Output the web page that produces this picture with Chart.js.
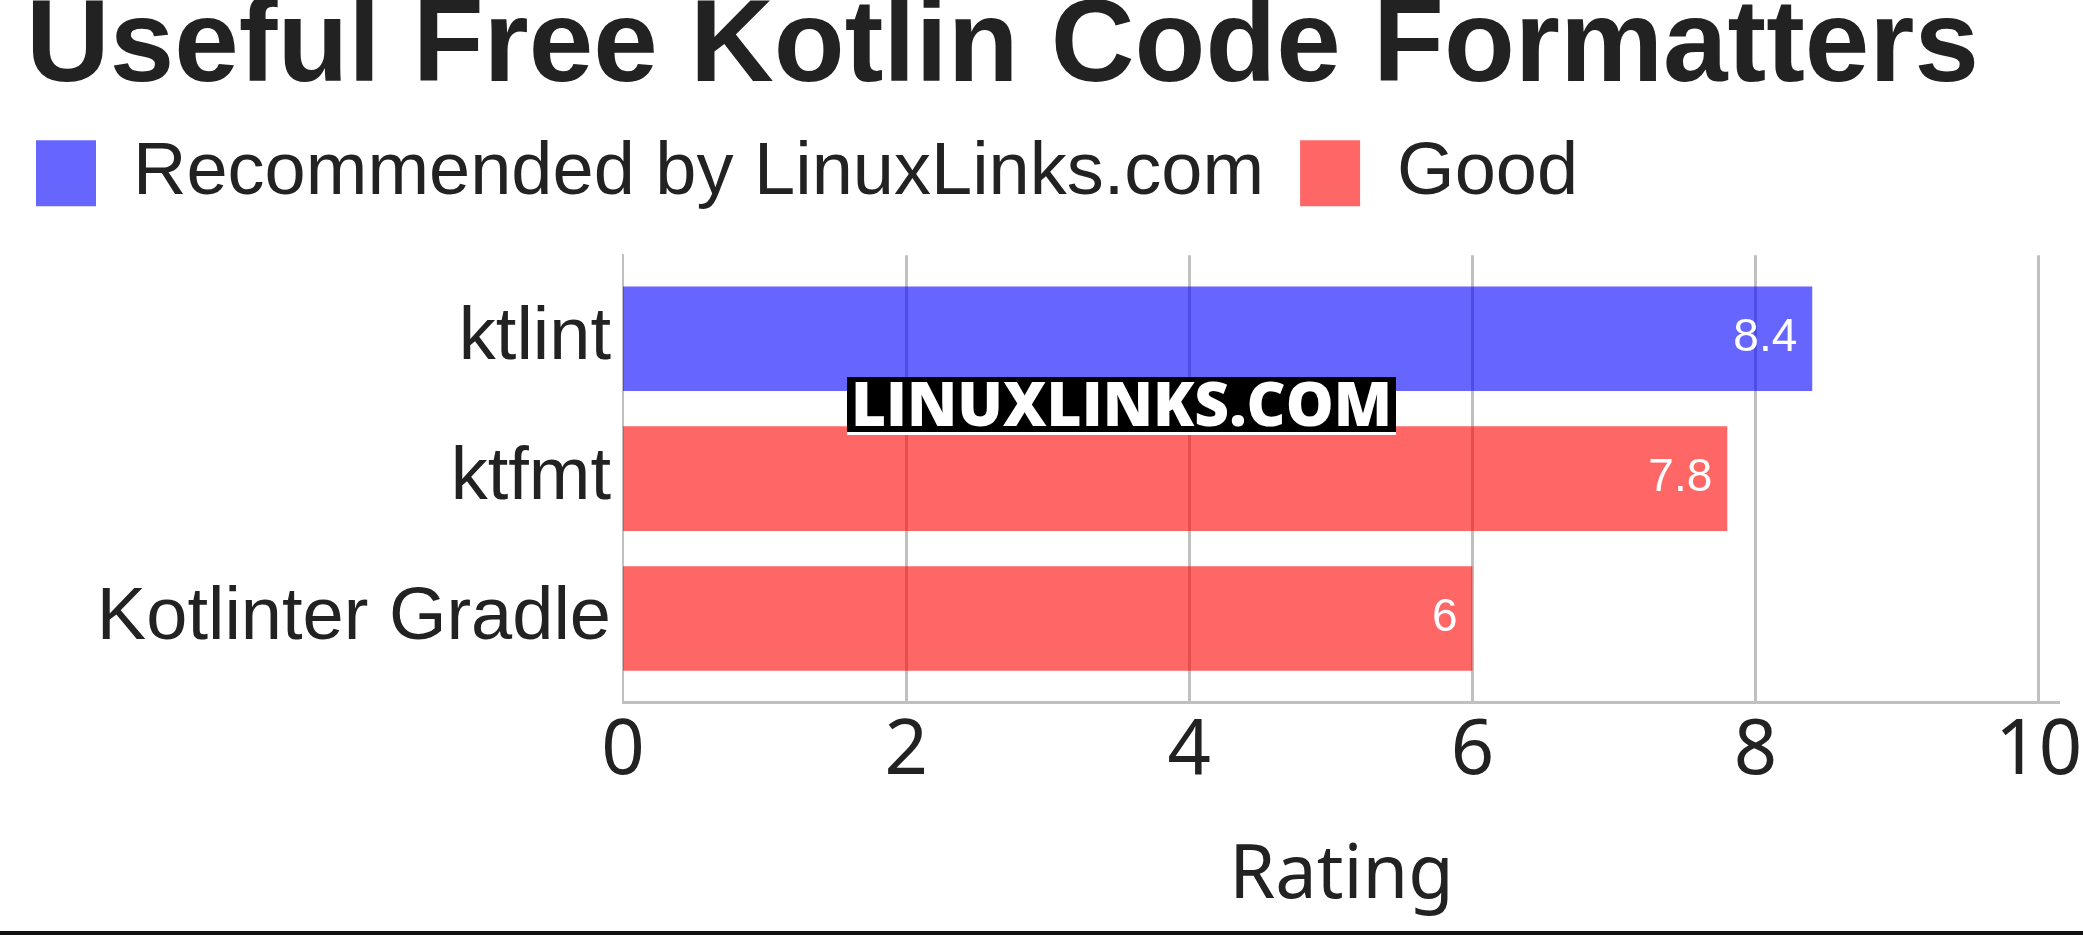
<!DOCTYPE html>
<html>
<head>
<meta charset="utf-8">
<title>Useful Free Kotlin Code Formatters</title>
<script src="https://cdn.jsdelivr.net/npm/chart.js@4.4.1/dist/chart.umd.min.js"></script>
<style>
  html, body { margin: 0; padding: 0; background: #fff; }
  #wrap { position: relative; width: 2083px; height: 931px; }
  #rule { width: 2083px; height: 4px; background: #111; }
</style>
</head>
<body>
<div id="wrap"><canvas id="chart"></canvas></div>
<div id="rule"></div>
<script>
const tools = ["ktlint", "ktfmt", "Kotlinter Gradle"];
const recommended = [8.4, null, null];
const good = [null, 7.8, 6];

// extra space under the legend, title nudged in from the left edge
const header = {
  id: "header",
  beforeInit(chart) {
    const fit = chart.legend.fit;
    chart.legend.fit = function () {
      fit.call(this);
      this.height += 35;
    };
  },
  afterLayout(chart) {
    chart.titleBlock.left += 26;
    chart.titleBlock.right += 26;
  },
};

// rating written inside the end of each bar
const barValues = {
  id: "barValues",
  afterDatasetsDraw(chart) {
    const ctx = chart.ctx;
    ctx.save();
    ctx.font = "46px 'Liberation Sans', Arial, sans-serif";
    ctx.fillStyle = "#fff";
    ctx.textAlign = "right";
    ctx.textBaseline = "middle";
    chart.data.datasets.forEach((ds, i) => {
      chart.getDatasetMeta(i).data.forEach((bar, j) => {
        if (ds.data[j] == null) return;
        ctx.fillText(String(ds.data[j]), bar.x - 15, bar.y);
      });
    });
    ctx.restore();
  },
};

const watermark = {
  id: "watermark",
  afterDraw(chart) {
    const ctx = chart.ctx;
    const x = 847, y = 377, w = 549, h = 55;
    ctx.save();
    ctx.fillStyle = "#000";
    ctx.fillRect(x, y, w, h);
    ctx.fillStyle = "#fff";
    ctx.fillRect(x, y + h, w, 3);
    ctx.font = "800 62px 'Open Sans', sans-serif";
    ctx.textAlign = "left";
    ctx.textBaseline = "alphabetic";
    ctx.fillText("LINUXLINKS.COM", x + 4, 426, w - 8);
    ctx.restore();
  },
};

new Chart(document.getElementById("chart"), {
  type: "bar",
  data: {
    labels: tools,
    datasets: [
      { label: "Recommended by LinuxLinks.com", data: recommended, backgroundColor: "rgba(0, 0, 255, 0.6)" },
      { label: "Good", data: good, backgroundColor: "rgba(255, 0, 0, 0.6)" },
    ],
  },
  options: {
    indexAxis: "y",
    responsive: true,
    maintainAspectRatio: false,
    animation: false,
    datasets: {
      bar: { grouped: false, categoryPercentage: 1, barPercentage: 0.748, borderWidth: 0 },
    },
    layout: { padding: { left: 0, right: 23, top: 0, bottom: 0 } },
    plugins: {
      title: {
        display: true,
        align: "start",
        text: "Useful Free Kotlin Code Formatters",
        color: "#222",
        font: { family: "'Liberation Sans', Arial, sans-serif", size: 116, weight: "bold", lineHeight: 0.7 },
        padding: { top: 8, bottom: 11 },
      },
      legend: {
        align: "start",
        labels: {
          color: "#222",
          font: { family: "'Liberation Sans', Arial, sans-serif", size: 74 },
          boxWidth: 60,
          boxHeight: 66,
          padding: 36,
        },
      },
      tooltip: { enabled: false },
    },
    scales: {
      x: {
        min: 0,
        max: 10.15,
        ticks: {
          stepSize: 2,
          includeBounds: false,
          padding: 0,
          color: "#222",
          font: { family: "'Noto Sans', sans-serif", size: 76, lineHeight: 1.316 },
        },
        grid: { color: "#c0c0c0", lineWidth: (c) => (c.index === 0 ? 0 : 3), drawTicks: false },
        border: { color: "#c0c0c0", width: 3 },
        title: {
          display: true,
          text: "Rating",
          color: "#222",
          font: { family: "'Noto Sans', sans-serif", size: 74, lineHeight: 1.2 },
          padding: { top: 30, bottom: 10 },
        },
      },
      y: {
        // rows sit 140px apart with ~84px margin at top and bottom of the plot
        afterBuildTicks(scale) {
          scale._startValue = -0.597;
          scale._valueRange = 3.195;
        },
        afterFit(scale) {
          scale.width = 623;
        },
        ticks: {
          padding: 12,
          color: "#222",
          font: { family: "'Liberation Sans', Arial, sans-serif", size: 74 },
        },
        grid: { display: false, drawTicks: false },
        border: { color: "#c0c0c0", width: 2 },
      },
    },
  },
  plugins: [header, barValues, watermark],
});
</script>
</body>
</html>
